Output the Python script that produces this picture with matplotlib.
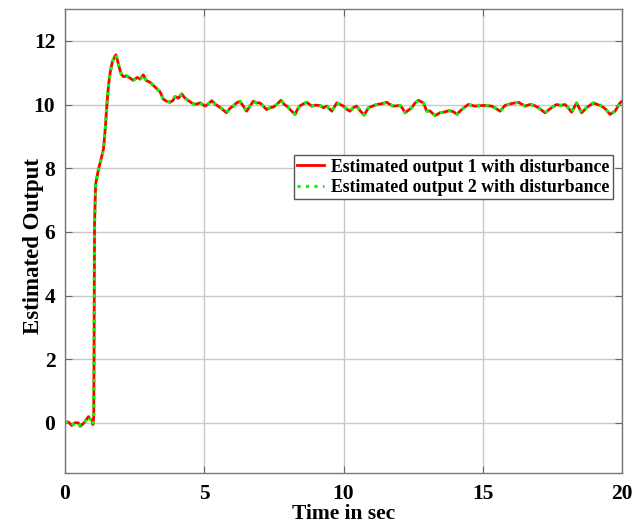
import numpy as np
import matplotlib
matplotlib.use("Agg")
import matplotlib.pyplot as plt

plt.rcParams['font.family'] = ['Liberation Serif', 'DejaVu Serif']
plt.rcParams['font.weight'] = 'bold'

# time samples (s)
time_s = [0.00, 0.12, 0.24, 0.36, 0.48, 0.54, 0.66, 0.72, 0.84, 0.90, 0.96, 1.00,
          1.03, 1.04, 1.06, 1.10, 1.20, 1.30, 1.38, 1.45, 1.50, 1.56, 1.62, 1.70,
          1.76, 1.82, 1.88, 1.95, 2.02, 2.10, 2.20, 2.30, 2.45, 2.60, 2.70, 2.81,
          2.92, 3.05, 3.17, 3.29, 3.41, 3.53, 3.65, 3.77, 3.87, 3.95, 4.07, 4.19,
          4.31, 4.43, 4.55, 4.67, 4.85, 5.03, 5.15, 5.27, 5.40, 5.50, 5.65, 5.80,
          5.92, 6.04, 6.16, 6.28, 6.40, 6.52, 6.64, 6.76, 6.88, 7.00, 7.12, 7.24,
          7.36, 7.48, 7.60, 7.75, 7.88, 8.00, 8.13, 8.26, 8.35, 8.44, 8.56, 8.68,
          8.86, 9.00, 9.16, 9.28, 9.40, 9.58, 9.76, 9.88, 10.00, 10.12, 10.23, 10.35,
          10.47, 10.60, 10.74, 10.90, 11.05, 11.19, 11.35, 11.55, 11.67, 11.79, 12.03, 12.12,
          12.21, 12.33, 12.45, 12.57, 12.69, 12.87, 12.99, 13.10, 13.29, 13.46, 13.60, 13.82,
          13.95, 14.07, 14.24, 14.36, 14.48, 14.72, 15.02, 15.32, 15.47, 15.62, 15.80, 16.04,
          16.28, 16.52, 16.70, 16.85, 17.00, 17.12, 17.24, 17.41, 17.65, 17.80, 17.95, 18.07,
          18.19, 18.37, 18.55, 18.73, 18.97, 19.12, 19.27, 19.42, 19.57, 19.75, 19.93, 20.00]

# estimated output 1 with disturbance
output_1 = [0.02, 0.03, -0.08, 0.01, 0.00, -0.10, -0.02, 0.05, 0.20, 0.12, 0.10, -0.05,
            0.20, 1.80, 6.30, 7.50, 7.97, 8.30, 8.60, 9.30, 9.96, 10.60, 11.00, 11.35,
            11.45, 11.56, 11.40, 11.15, 10.95, 10.87, 10.90, 10.85, 10.76, 10.85, 10.80, 10.93,
            10.75, 10.70, 10.60, 10.50, 10.40, 10.17, 10.10, 10.07, 10.12, 10.25, 10.20, 10.33,
            10.20, 10.12, 10.05, 10.00, 10.05, 9.95, 10.02, 10.12, 10.00, 9.95, 9.85, 9.74,
            9.88, 9.95, 10.05, 10.10, 9.95, 9.79, 9.95, 10.10, 10.05, 10.05, 9.95, 9.84,
            9.90, 9.92, 10.00, 10.13, 10.00, 9.92, 9.80, 9.69, 9.85, 9.96, 10.02, 10.07,
            9.95, 9.98, 9.97, 9.90, 9.95, 9.79, 10.05, 10.00, 9.95, 9.85, 9.79, 9.90,
            9.95, 9.80, 9.67, 9.90, 9.95, 10.00, 10.02, 10.07, 10.00, 9.95, 9.97, 9.88,
            9.74, 9.82, 9.90, 10.05, 10.13, 10.05, 9.79, 9.80, 9.65, 9.74, 9.76, 9.81,
            9.77, 9.69, 9.84, 9.92, 10.00, 9.95, 9.97, 9.95, 9.88, 9.79, 9.97, 10.03,
            10.07, 9.95, 10.00, 9.97, 9.90, 9.82, 9.74, 9.86, 10.00, 9.97, 10.00, 9.90,
            9.76, 10.05, 9.74, 9.90, 10.05, 10.00, 9.95, 9.85, 9.69, 9.79, 10.05, 10.10]

# estimated output 2 overlaps output 1
output_2 = list(output_1)

x_ticks = [0, 5, 10, 15, 20]
y_ticks = [0, 2, 4, 6, 8, 10, 12]

fig = plt.figure(figsize=(6.44, 5.27), dpi=100)
ax = fig.add_axes([0.101, 0.1025, 0.8648, 0.8805])

ax.plot(time_s, output_1, color='#ff0000', linewidth=2.0, label='Estimated output 1 with disturbance')
ax.plot(time_s, output_2, color='#00ff00', linewidth=2.3, linestyle=':', label='Estimated output 2 with disturbance')

ax.set_xlim(0, 20)
ax.set_ylim(-1.57, 13)
ax.set_xticks(x_ticks)
ax.set_yticks(y_ticks)
ax.grid(True, color='#c8c8c8', linewidth=1.0)
ax.set_axisbelow(True)
ax.tick_params(direction='in', top=True, right=True, labelsize=15.5, length=5, color='#666666')
ax.tick_params(axis='x', pad=8)
ax.tick_params(axis='y', pad=7)
for lbl in ax.get_xticklabels() + ax.get_yticklabels():
    lbl.set_fontweight('bold')
for sp in ax.spines.values():
    sp.set_color('#777777')
    sp.set_linewidth(1.0)

ax.set_xlabel('Time in sec', fontsize=15.5, fontweight='bold', labelpad=0)
ax.set_ylabel('Estimated Output', fontsize=16.5, fontweight='bold')
ax.yaxis.set_label_coords(-0.037, 0.49)

leg = ax.legend(loc='upper right', bbox_to_anchor=(0.984, 0.685), fontsize=12.8,
                fancybox=False, framealpha=1, edgecolor='#555555', handlelength=1.5,
                borderpad=0.2, labelspacing=0.18, handletextpad=0.4, borderaxespad=0)
for txt in leg.get_texts():
    txt.set_fontweight('bold')

fig.savefig('out.png', dpi=100)
